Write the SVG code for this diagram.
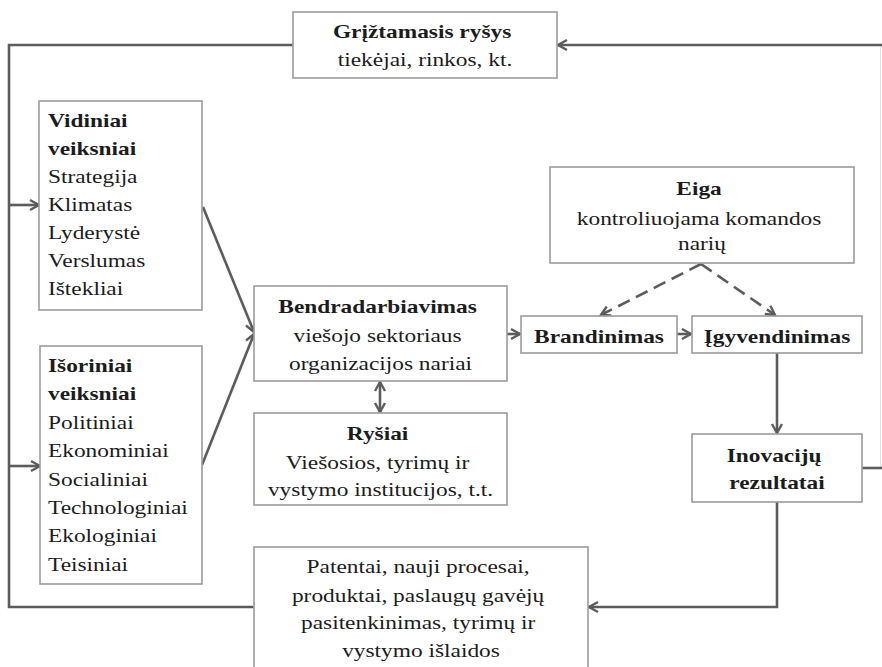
<svg xmlns="http://www.w3.org/2000/svg" width="882" height="667" viewBox="0 0 882 667">
  <style>
    .box { fill: #ffffff; stroke: #9c9c9c; stroke-width: 1.6; }
    .t { font-family: "Liberation Serif", "Times New Roman", serif; font-size: 19px; fill: #1c1c1c; }
    .b { font-weight: bold; }
    .c { text-anchor: middle; }
    .link { fill: none; stroke: #5c5c5c; stroke-width: 2.6; }
    .dash { stroke-dasharray: 13 7; }
    .faint { fill: none; stroke: #e2e2e2; stroke-width: 1; }
  </style>
  <defs>
    <marker id="chev" markerUnits="userSpaceOnUse" markerWidth="14" markerHeight="14" refX="10" refY="6" orient="auto-start-reverse" viewBox="0 0 14 12">
      <path d="M1,1 L10,6 L1,11" fill="none" stroke="#5c5c5c" stroke-width="2.4" stroke-linejoin="miter"/>
    </marker>
  </defs>

  <rect width="882" height="667" fill="#ffffff"/>

  <!-- connectors -->
  <g id="connectors">
    <!-- feedback loop around the outer frame -->
    <path class="faint" d="M880.5,45 V468"/>
    <path class="link" d="M882,45 H558" marker-end="url(#chev)"/>
    <path class="link" d="M293,45 H9 V607 H254"/>
    <path class="link" d="M9,205 H39" marker-end="url(#chev)"/>
    <path class="link" d="M9,466 H40" marker-end="url(#chev)"/>
    <!-- factors into cooperation -->
    <path class="link" d="M203,207 L254,332" marker-end="url(#chev)"/>
    <path class="link" d="M202,465 L254,334" marker-end="url(#chev)"/>
    <!-- cooperation and links -->
    <path class="link" d="M380,382 V412" marker-start="url(#chev)" marker-end="url(#chev)"/>
    <path class="link" d="M507,334 H520" marker-end="url(#chev)"/>
    <path class="link" d="M677,334 H691" marker-end="url(#chev)"/>
    <!-- process control -->
    <path class="link dash" d="M701,264 L601,315" marker-end="url(#chev)"/>
    <path class="link dash" d="M701,264 L775,315" marker-end="url(#chev)"/>
    <!-- implementation to results to outputs -->
    <path class="link" d="M777,353 V433" marker-end="url(#chev)"/>
    <path class="link" d="M777,502 V607 H589" marker-end="url(#chev)"/>
    <path class="link" d="M862,468 H882"/>
  </g>

  <g id="feedback">
    <rect class="box" x="293" y="12" width="264" height="66"/>
    <text class="t c" transform="translate(425,0) scale(1.23,1)">
      <tspan class="b" x="0" y="38">Grįžtamasis ryšys</tspan>
      <tspan x="0" y="66">tiekėjai, rinkos, kt.</tspan>
    </text>
  </g>

  <g id="internal">
    <rect class="box" x="39" y="101" width="163" height="209"/>
    <text class="t" transform="translate(48,0) scale(1.23,1)">
      <tspan class="b" x="0" y="127">Vidiniai</tspan>
      <tspan class="b" x="0" y="155">veiksniai</tspan>
      <tspan x="0" y="183">Strategija</tspan>
      <tspan x="0" y="211">Klimatas</tspan>
      <tspan x="0" y="239">Lyderystė</tspan>
      <tspan x="0" y="267">Verslumas</tspan>
      <tspan x="0" y="295">Ištekliai</tspan>
    </text>
  </g>

  <g id="external">
    <rect class="box" x="40" y="346" width="162" height="238"/>
    <text class="t" transform="translate(48,0) scale(1.23,1)">
      <tspan class="b" x="0" y="372">Išoriniai</tspan>
      <tspan class="b" x="0" y="400">veiksniai</tspan>
      <tspan x="0" y="429">Politiniai</tspan>
      <tspan x="0" y="457">Ekonominiai</tspan>
      <tspan x="0" y="486">Socialiniai</tspan>
      <tspan x="0" y="514">Technologiniai</tspan>
      <tspan x="0" y="542">Ekologiniai</tspan>
      <tspan x="0" y="571">Teisiniai</tspan>
    </text>
  </g>

  <g id="cooperation">
    <rect class="box" x="254" y="286" width="253" height="95"/>
    <text class="t c" transform="translate(380.5,0) scale(1.23,1)">
      <tspan class="b" x="0" y="313">Bendradarbiavimas</tspan>
      <tspan x="0" y="342">viešojo sektoriaus</tspan>
      <tspan x="0" y="370">organizacijos nariai</tspan>
    </text>
  </g>

  <g id="links">
    <rect class="box" x="254" y="413" width="253" height="92"/>
    <text class="t c" transform="translate(380.5,0) scale(1.23,1)">
      <tspan class="b" x="0" y="440">Ryšiai</tspan>
      <tspan x="0" y="469">Viešosios, tyrimų ir</tspan>
      <tspan x="0" y="496">vystymo institucijos, t.t.</tspan>
    </text>
  </g>

  <g id="process">
    <rect class="box" x="550" y="167" width="304" height="96"/>
    <text class="t c" transform="translate(702,0) scale(1.23,1)">
      <tspan class="b" x="0" y="195">Eiga</tspan>
      <tspan x="0" y="225">kontroliuojama komandos</tspan>
      <tspan x="0" y="250">narių</tspan>
    </text>
  </g>

  <g id="maturing">
    <rect class="box" x="521" y="316" width="156" height="37"/>
    <text class="t c b" transform="translate(599,343) scale(1.23,1)">Brandinimas</text>
  </g>

  <g id="implementation">
    <rect class="box" x="692" y="316" width="170" height="37"/>
    <text class="t c b" transform="translate(777,343) scale(1.23,1)">Įgyvendinimas</text>
  </g>

  <g id="results">
    <rect class="box" x="692" y="434" width="170" height="68"/>
    <text class="t c b" transform="translate(777,0) scale(1.23,1)">
      <tspan x="0" y="462">Inovacijų</tspan>
      <tspan x="0" y="489">rezultatai</tspan>
    </text>
  </g>

  <g id="outputs">
    <rect class="box" x="254" y="547" width="334" height="130"/>
    <text class="t c" transform="translate(421,0) scale(1.23,1)">
      <tspan x="0" y="573">Patentai, nauji procesai,</tspan>
      <tspan x="0" y="602">produktai, paslaugų gavėjų</tspan>
      <tspan x="0" y="629">pasitenkinimas, tyrimų ir</tspan>
      <tspan x="0" y="657">vystymo išlaidos</tspan>
    </text>
  </g>
</svg>
